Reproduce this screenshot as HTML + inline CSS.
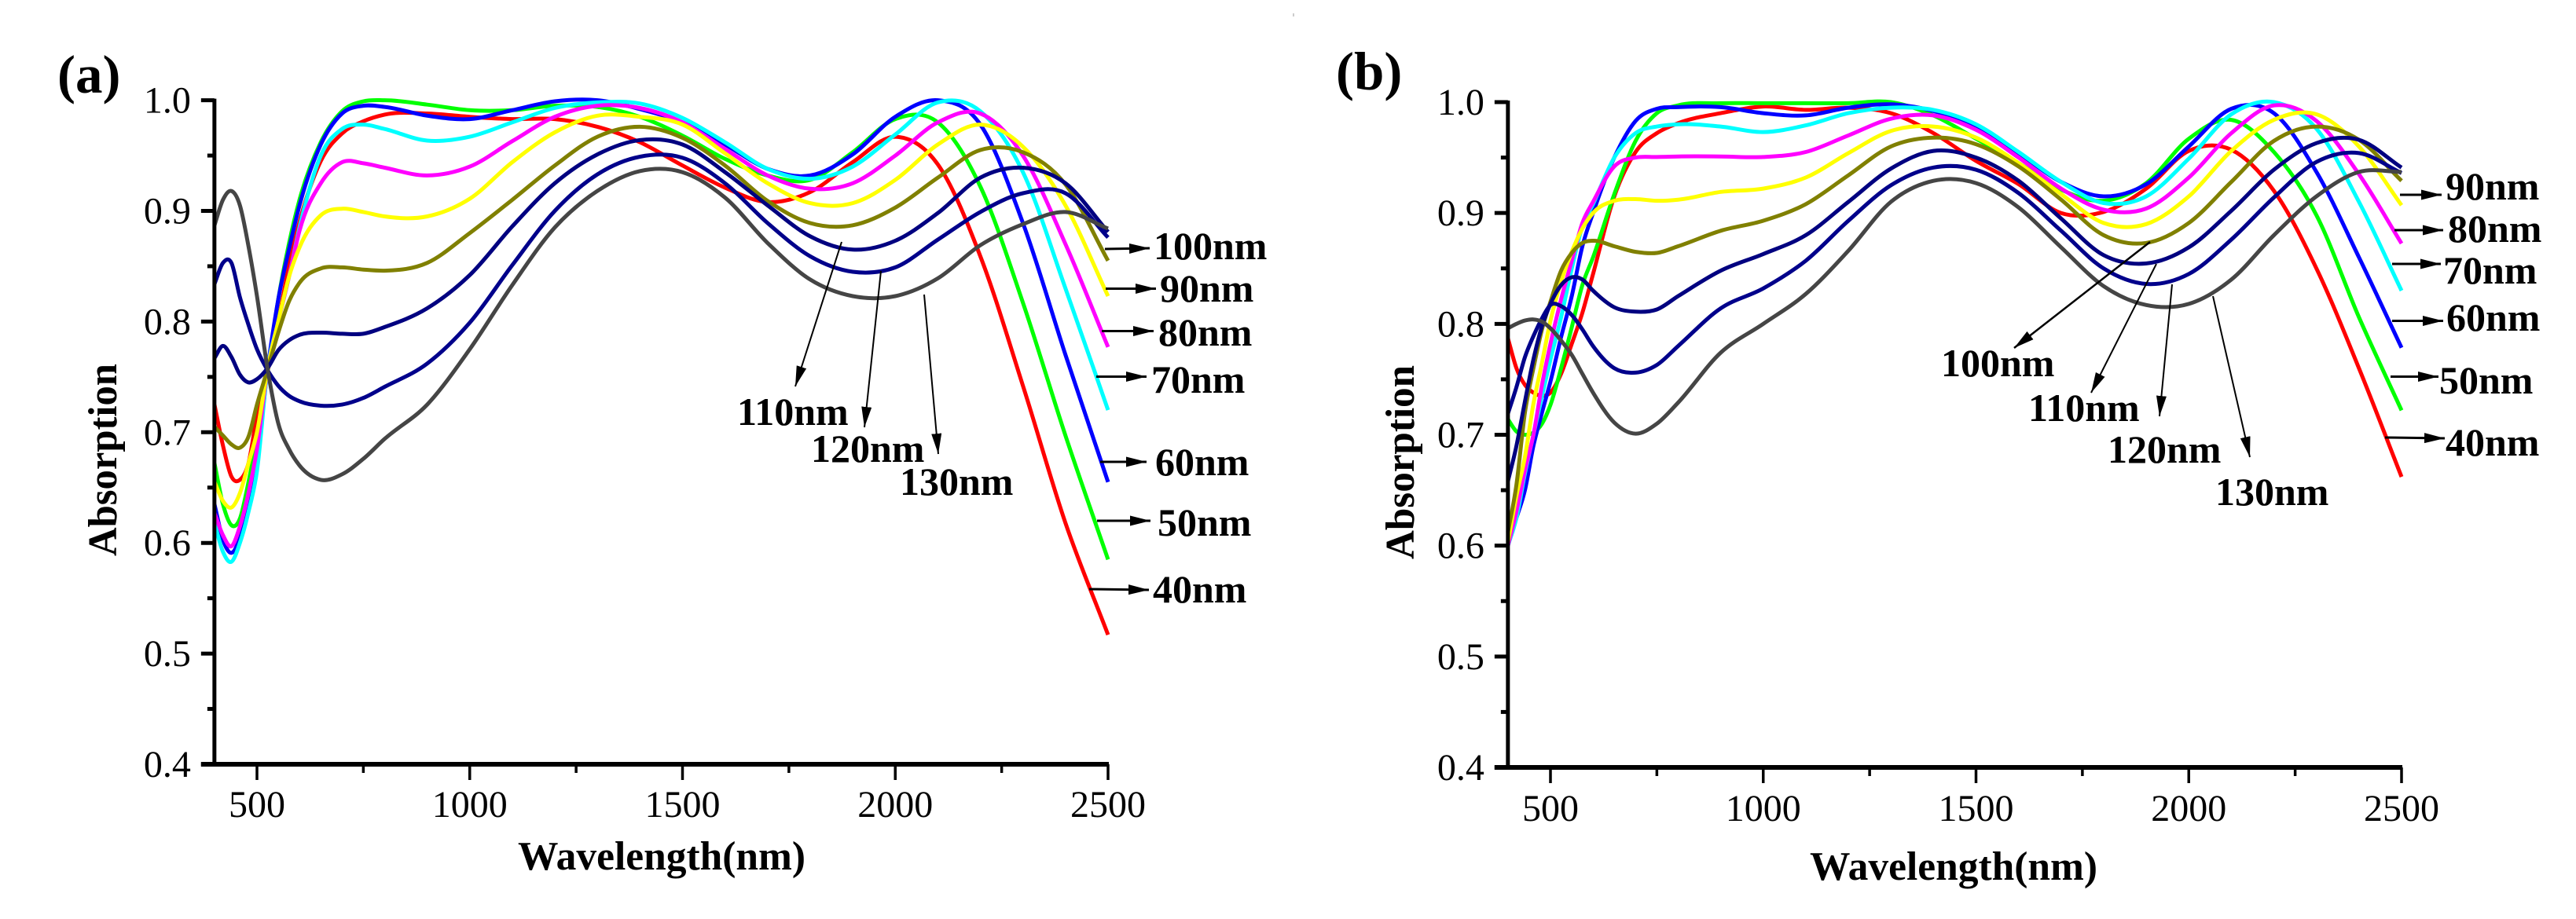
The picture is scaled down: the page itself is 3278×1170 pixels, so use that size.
<!DOCTYPE html>
<html lang="en">
<head>
<meta charset="utf-8">
<title>Absorption spectra</title>
<style>
html,body{margin:0;padding:0;background:#fff;width:3278px;height:1170px;overflow:hidden}
svg{display:block}
text{font-family:"Liberation Serif","Times New Roman",serif;fill:#000}
.tick{font-size:48px}
.lab{font-size:50px;font-weight:bold}
.ax{font-size:52px;font-weight:bold}
.pan{font-size:69px;font-weight:bold}
.ann{stroke:#000;fill:none}
</style>
</head>
<body>
<svg id="chart" xmlns="http://www.w3.org/2000/svg" width="3278" height="1170" viewBox="0 0 3278 1170">
<defs>
<marker id="head" markerUnits="userSpaceOnUse" markerWidth="28" markerHeight="14" refX="26" refY="6.5" orient="auto"><polygon points="0,0 26,6.5 0,13" fill="#000"/></marker>
</defs>
<rect x="0" y="0" width="3278" height="1170" fill="#fff"/>
<g id="panel-a"></g>
<g id="panel-b"></g>

<line x1="1646" y1="17" x2="1646" y2="21" stroke="#bbb" stroke-width="1.5"/>

<g>
<text class="pan" x="73" y="118">(a)</text>
<text class="ax" x="659" y="1107" textLength="366" lengthAdjust="spacingAndGlyphs">Wavelength(nm)</text>
<text class="ax" transform="translate(148,708) rotate(-90)" textLength="245" lengthAdjust="spacingAndGlyphs">Absorption</text>
<line class="ann" x1="1406" y1="317" x2="1463" y2="316" stroke-width="3" marker-end="url(#head)"/>
<line class="ann" x1="1407" y1="367.5" x2="1471" y2="367.5" stroke-width="3" marker-end="url(#head)"/>
<line class="ann" x1="1402" y1="421.5" x2="1468" y2="421.5" stroke-width="3" marker-end="url(#head)"/>
<line class="ann" x1="1395" y1="479.5" x2="1459" y2="479.5" stroke-width="3" marker-end="url(#head)"/>
<line class="ann" x1="1400" y1="588" x2="1459" y2="588" stroke-width="3" marker-end="url(#head)"/>
<line class="ann" x1="1396" y1="663" x2="1464" y2="663" stroke-width="3" marker-end="url(#head)"/>
<line class="ann" x1="1386" y1="750" x2="1462" y2="751" stroke-width="3" marker-end="url(#head)"/>
<line class="ann" x1="1071" y1="308" x2="1012" y2="492" stroke-width="2" marker-end="url(#head)"/>
<line class="ann" x1="1121" y1="345" x2="1100" y2="544" stroke-width="2" marker-end="url(#head)"/>
<line class="ann" x1="1176" y1="375" x2="1194" y2="578" stroke-width="2" marker-end="url(#head)"/>
<text class="lab" x="1468" y="330">100nm</text>
<text class="lab" x="1476" y="384">90nm</text>
<text class="lab" x="1474" y="440">80nm</text>
<text class="lab" x="1465" y="500">70nm</text>
<text class="lab" x="1470" y="605">60nm</text>
<text class="lab" x="1473" y="682">50nm</text>
<text class="lab" x="1467" y="767">40nm</text>
<text class="lab" x="938" y="541">110nm</text>
<text class="lab" x="1032" y="588">120nm</text>
<text class="lab" x="1145" y="630">130nm</text>
</g>

<g>
<text class="pan" x="1700" y="114">(b)</text>
<text class="ax" x="2303" y="1120" textLength="366" lengthAdjust="spacingAndGlyphs">Wavelength(nm)</text>
<text class="ax" transform="translate(1799,712) rotate(-90)" textLength="247" lengthAdjust="spacingAndGlyphs">Absorption</text>
<line class="ann" x1="3054" y1="248" x2="3107" y2="248" stroke-width="3" marker-end="url(#head)"/>
<line class="ann" x1="3047" y1="293" x2="3109" y2="293" stroke-width="3" marker-end="url(#head)"/>
<line class="ann" x1="3044" y1="336" x2="3106" y2="336" stroke-width="3" marker-end="url(#head)"/>
<line class="ann" x1="3044" y1="408.5" x2="3109" y2="408.5" stroke-width="3" marker-end="url(#head)"/>
<line class="ann" x1="3042" y1="479.5" x2="3103" y2="479.5" stroke-width="3" marker-end="url(#head)"/>
<line class="ann" x1="3035" y1="557" x2="3111" y2="558" stroke-width="3" marker-end="url(#head)"/>
<line class="ann" x1="2736" y1="308" x2="2563" y2="443" stroke-width="2.5" marker-end="url(#head)"/>
<line class="ann" x1="2744" y1="336" x2="2661" y2="500" stroke-width="2" marker-end="url(#head)"/>
<line class="ann" x1="2764" y1="362" x2="2748" y2="530" stroke-width="2" marker-end="url(#head)"/>
<line class="ann" x1="2816" y1="377" x2="2863" y2="582" stroke-width="2" marker-end="url(#head)"/>
<text class="lab" x="3112" y="254">90nm</text>
<text class="lab" x="3115" y="308">80nm</text>
<text class="lab" x="3109" y="361">70nm</text>
<text class="lab" x="3113" y="421">60nm</text>
<text class="lab" x="3104" y="501">50nm</text>
<text class="lab" x="3112" y="580">40nm</text>
<text class="lab" x="2470" y="479">100nm</text>
<text class="lab" x="2581" y="536">110nm</text>
<text class="lab" x="2682" y="589">120nm</text>
<text class="lab" x="2819" y="643">130nm</text>
</g>
</svg>

<script>
// ---- shared axis data ----
const wavelengths = [400,420,440,460,480,500,525,550,575,600,650,700,750,800,900,1000,1100,1200,1300,1400,1500,1600,1700,1800,1900,2000,2100,2200,2300,2400,2500];
const xTickLabels = [500,1000,1500,2000,2500];
const xMinorTicks = [750,1250,1750,2250];
const yTickLabels = ['0.4','0.5','0.6','0.7','0.8','0.9','1.0'];
const yMinorTicks = [0.45,0.55,0.65,0.75,0.85,0.95];
const thicknesses = ['40nm','50nm','60nm','70nm','80nm','90nm','100nm','110nm','120nm','130nm'];
const seriesColors = ['#ff0000','#00ff00','#0000ff','#00ffff','#ff00ff','#ffff00','#808000','#000080','#00008b','#454545'];

// ---- panel (a) absorption values ----
const a40  = [.725,.688,.66,.657,.672,.715,.755,.80,.85,.89,.945,.97,.981,.987,.988,.985,.983,.983,.976,.962,.941,.921,.908,.917,.944,.967,.942,.859,.742,.618,.517];
const a50  = [.672,.635,.616,.622,.655,.695,.755,.82,.87,.91,.962,.99,.999,1.0,.996,.991,.991,.995,.994,.985,.968,.947,.932,.928,.953,.983,.98,.922,.817,.697,.585];
const a60  = [.635,.603,.591,.605,.635,.675,.757,.82,.865,.905,.96,.988,.995,.994,.986,.983,.991,.999,1.0,.992,.98,.96,.938,.932,.951,.985,1.0,.978,.889,.77,.655];
const a70  = [.618,.592,.583,.60,.628,.665,.757,.80,.84,.885,.95,.974,.978,.974,.9635,.967,.98,.993,.998,.997,.984,.962,.938,.929,.94,.969,.998,.99,.935,.83,.72];
const a80  = [.627,.607,.597,.615,.645,.685,.757,.80,.84,.882,.925,.944,.943,.939,.932,.94,.963,.985,.995,.993,.98,.956,.932,.92,.925,.95,.98,.988,.95,.87,.777];
const a90  = [.655,.638,.632,.645,.672,.70,.757,.80,.84,.867,.896,.902,.899,.895,.895,.911,.944,.971,.986,.985,.978,.952,.925,.907,.907,.928,.96,.978,.958,.905,.823];
const a100 = [.705,.697,.689,.686,.696,.725,.757,.79,.818,.835,.848,.849,.847,.846,.853,.88,.91,.941,.967,.976,.966,.941,.909,.889,.887,.903,.93,.955,.953,.924,.855];
const a110 = [.767,.778,.768,.752,.745,.748,.758,.774,.783,.788,.79,.789,.789,.795,.812,.842,.886,.925,.951,.964,.96,.935,.905,.877,.865,.873,.898,.93,.939,.925,.881];
const a120 = [.834,.853,.853,.822,.797,.775,.756,.742,.733,.728,.724,.725,.731,.741,.762,.799,.851,.90,.933,.949,.948,.925,.889,.859,.845,.849,.874,.899,.916,.916,.876];
const a130 = [.887,.91,.918,.905,.868,.823,.757,.708,.685,.670,.657,.662,.676,.694,.725,.775,.833,.885,.918,.936,.935,.912,.871,.838,.823,.823,.839,.869,.888,.899,.884];

// ---- panel (b) absorption values ----
const b40  = [.787,.76,.745,.738,.735,.738,.755,.782,.81,.845,.915,.955,.972,.981,.99,.996,.993,.995,.99,.972,.947,.926,.90,.901,.922,.956,.957,.92,.85,.76,.662];
const b50  = [.714,.703,.70,.702,.71,.727,.76,.797,.835,.86,.917,.965,.99,.997,.999,.999,.999,.999,1.0,.988,.967,.945,.921,.911,.927,.967,.984,.955,.898,.806,.722];
const b60  = [.60,.625,.65,.69,.72,.748,.788,.825,.87,.90,.95,.983,.994,.9955,.9955,.99,.988,.995,.998,.992,.978,.954,.928,.915,.926,.96,.994,.99,.937,.86,.7785];
const b70  = [.60,.625,.665,.70,.735,.768,.806,.85,.888,.908,.95,.972,.978,.98,.978,.973,.979,.99,.995,.993,.98,.955,.928,.909,.915,.949,.989,1.0,.976,.91,.83];
const b80  = [.60,.631,.668,.70,.745,.782,.822,.857,.891,.91,.942,.95,.9505,.951,.951,.9505,.955,.97,.985,.988,.975,.95,.922,.903,.904,.932,.972,.997,.983,.935,.8725];
const b90  = [.603,.645,.68,.728,.765,.803,.838,.865,.886,.90,.911,.9125,.911,.912,.919,.922,.932,.954,.974,.978,.968,.945,.917,.891,.89,.915,.956,.984,.989,.96,.907];
const b100 = [.612,.655,.72,.76,.795,.82,.848,.864,.873,.875,.87,.865,.864,.87,.884,.893,.908,.934,.96,.968,.962,.942,.912,.88,.873,.891,.928,.965,.978,.966,.929];
const b110 = [.658,.69,.73,.768,.798,.818,.835,.842,.84,.83,.815,.811,.813,.825,.848,.863,.88,.91,.94,.956,.95,.929,.895,.862,.8545,.869,.902,.939,.963,.966,.941];
const b120 = [.719,.743,.77,.789,.805,.817,.816,.808,.795,.78,.76,.756,.763,.78,.814,.832,.857,.893,.925,.941,.939,.918,.884,.85,.836,.845,.876,.914,.946,.954,.936];
const b130 = [.796,.80,.803,.804,.802,.796,.785,.772,.755,.738,.711,.701,.71,.729,.774,.80,.827,.866,.91,.929,.927,.905,.869,.834,.817,.818,.84,.88,.915,.937,.937];

const aSeries = [a40,a50,a60,a70,a80,a90,a100,a110,a120,a130];
const bSeries = [b40,b50,b60,b70,b80,b90,b100,b110,b120,b130];

const NS = 'http://www.w3.org/2000/svg';

function make(tag, parent, attrs){
  const el = document.createElementNS(NS, tag);
  for (const k in attrs) el.setAttribute(k, attrs[k]);
  parent.appendChild(el);
  return el;
}

function linearScale(d0, d1, r0, r1){
  return function(v){ return r0 + (v - d0) * (r1 - r0) / (d1 - d0); };
}

function splinePath(xs, ys, sx, sy){
  const n = xs.length;
  const px = xs.map(sx);
  const py = ys.map(sy);
  const m = [];
  for (let i = 0; i < n; i++){
    if (i === 0){
      m.push((py[1] - py[0]) / (px[1] - px[0]));
    } else if (i === n - 1){
      m.push((py[i] - py[i - 1]) / (px[i] - px[i - 1]));
    } else {
      const h0 = px[i] - px[i - 1];
      const h1 = px[i + 1] - px[i];
      const d0 = (py[i] - py[i - 1]) / h0;
      const d1 = (py[i + 1] - py[i]) / h1;
      m.push((h1 * d0 + h0 * d1) / (h0 + h1));
    }
  }
  let d = 'M' + px[0].toFixed(1) + ' ' + py[0].toFixed(1);
  for (let i = 0; i < n - 1; i++){
    const h = (px[i + 1] - px[i]) / 3;
    d += 'C' + (px[i] + h).toFixed(1) + ' ' + (py[i] + m[i] * h).toFixed(1) + ' ' +
         (px[i + 1] - h).toFixed(1) + ' ' + (py[i + 1] - m[i + 1] * h).toFixed(1) + ' ' +
         px[i + 1].toFixed(1) + ' ' + py[i + 1].toFixed(1);
  }
  return d;
}

function drawPanel(id, series, sx, sy, xLabelBaseline){
  const g = document.getElementById(id);
  const left = sx(400);
  const right = sx(2500);
  const top = sy(1.0);
  const bottom = sy(0.4);

  series.forEach(function(vals, i){
    const p = make('path', g, {d: splinePath(wavelengths, vals, sx, sy), fill: 'none', stroke: seriesColors[i], 'stroke-width': 5, 'stroke-linejoin': 'round'});
    
    
  });

  const yAxis = make('line', g, {x1: left, y1: top - 2, x2: left, y2: bottom, stroke: '#000', 'stroke-width': 5});
  
  

  const xAxis = make('line', g, {x1: left - 17, y1: bottom, x2: right + 1, y2: bottom, stroke: '#000', 'stroke-width': 6});
  
  

  yTickLabels.forEach(function(lbl){
    const v = parseFloat(lbl);
    const t = make('line', g, {x1: left - 17, y1: sy(v), x2: left, y2: sy(v), stroke: '#000', 'stroke-width': 5});
    
    
    const tx = make('text', g, {x: left - 30, y: sy(v) + 16, 'text-anchor': 'end', class: 'tick'});
    tx.textContent = lbl;
    
    
  });

  yMinorTicks.forEach(function(v){
    const t = make('line', g, {x1: left - 9, y1: sy(v), x2: left, y2: sy(v), stroke: '#000', 'stroke-width': 5});
    
    
  });

  xTickLabels.forEach(function(v){
    const t = make('line', g, {x1: sx(v), y1: bottom, x2: sx(v), y2: bottom + 20, stroke: '#000', 'stroke-width': 3.5});
    
    
    const tx = make('text', g, {x: sx(v), y: xLabelBaseline, 'text-anchor': 'middle', class: 'tick'});
    tx.textContent = String(v);
    
    
  });

  xMinorTicks.forEach(function(v){
    const t = make('line', g, {x1: sx(v), y1: bottom, x2: sx(v), y2: bottom + 11, stroke: '#000', 'stroke-width': 3.5});
    
    
  });
}

drawPanel('panel-a', aSeries, linearScale(500, 2500, 327, 1410), linearScale(1.0, 0.4, 127.6, 973), 1040);
drawPanel('panel-b', bSeries, linearScale(500, 2500, 1973, 3056), linearScale(1.0, 0.4, 130, 977), 1045);
</script>
</body>
</html>
